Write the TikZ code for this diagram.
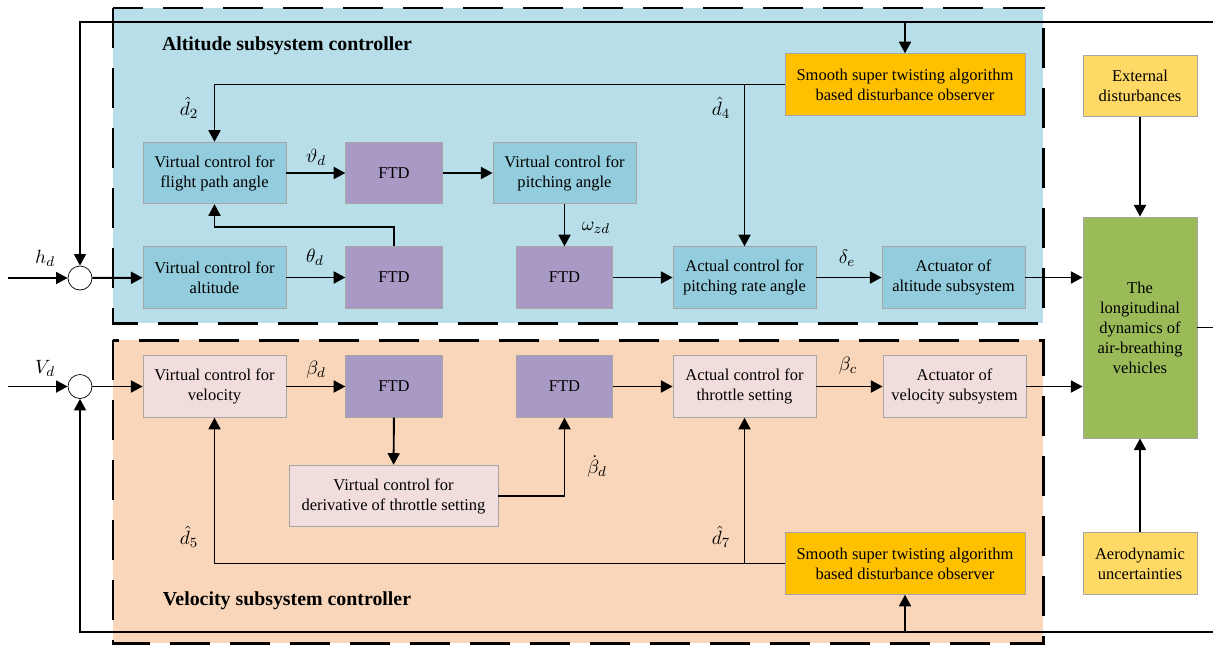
\documentclass[tikz,border=0pt]{standalone}
\usepackage{amsmath}
\usepackage{fontspec}
\setmainfont{Liberation Serif}
\usepackage{tikz}
\usetikzlibrary{arrows.meta}
\definecolor{altback}{HTML}{B7DEE9}
\definecolor{velback}{HTML}{F9D6B9}
\definecolor{altbox}{HTML}{93CDDD}
\definecolor{velbox}{HTML}{F1DEDC}
\definecolor{ftdbox}{HTML}{A99AC5}
\definecolor{obsbox}{HTML}{FFC000}
\definecolor{envbox}{HTML}{FFD966}
\definecolor{plantbox}{HTML}{9BBB59}
\tikzset{%
  every block/.style={
    draw=gray!70,
    line width=0.5pt,
    minimum width=2.86cm,
    minimum height=1.23cm,
    inner sep=1pt,
    align=center,
    font=\fontsize{9.4}{11.4}\selectfont
  },
  block alt/.style={fill=altbox},
  block vel/.style={fill=velbox},
  block ftd/.style={fill=ftdbox, minimum width=1.93cm},
  block obs/.style={fill=obsbox, minimum width=4.8cm},
  block env/.style={fill=envbox, minimum width=2.28cm},
  block plant/.style={fill=plantbox, minimum width=2.28cm, minimum height=4.42cm},
  sum/.style={circle, draw, fill=white, line width=0.4pt, minimum size=0.48cm, inner sep=0pt},
  frame/.style={line width=1.7pt, dash pattern=on 0.8cm off 0.4cm},
  link/.style={line width=1.1pt, ->},
  wire/.style={line width=1.1pt},
  signal/.style={font=\fontsize{11}{13}\selectfont, inner sep=0pt},
  title/.style={font=\fontsize{11.3}{13}\selectfont\bfseries, inner sep=0pt}
}

\begin{document}
\begin{tikzpicture}[x=0.02cm, y=-0.02cm, >={Triangle[length=6.6pt,width=6.8pt]}]

\useasboundingbox (0,0) rectangle (1213,646);

% controller regions
\draw [frame, fill=altback] (113,8) rectangle (1043,323);
\draw [frame, fill=velback] (113,340) rectangle (1043,643);
\node [title] (title-alt) at (287,46) {Altitude subsystem controller};
\node [title] (title-vel) at (287,601) {Velocity subsystem controller};

% altitude loop blocks
\node [every block/.try, block alt/.try] (virtual-fpa) at (214.5,173) {Virtual control for\\flight path angle};
\node [every block/.try, block alt/.try] (virtual-alt) at (214.5,277.5) {Virtual control for\\altitude};
\node [every block/.try, block alt/.try] (virtual-pitch) at (564.5,173) {Virtual control for\\pitching angle};
\node [every block/.try, block alt/.try] (actual-pitch) at (744.5,277.5) {Actual control for\\pitching rate angle};
\node [every block/.try, block alt/.try] (actuator-alt) at (953.5,277.5) {Actuator of\\altitude subsystem};

% velocity loop blocks
\node [every block/.try, block vel/.try] (virtual-vel) at (214.5,386.5) {Virtual control for\\velocity};
\node [every block/.try, block vel/.try, minimum width=4.18cm] (virtual-der) at (393.5,496) {Virtual control for\\derivative of throttle setting};
\node [every block/.try, block vel/.try] (actual-thr) at (744.5,386.5) {Actual control for\\throttle setting};
\node [every block/.try, block vel/.try] (actuator-vel) at (954.5,386.5) {Actuator of\\velocity subsystem};

\foreach \x/\y [count=\i] in {394/173, 394/277.5, 564.5/277.5, 394/386.5, 564.5/386.5}
  \node [every block/.try, block ftd/.try] (ftd-\i) at (\x,\y) {FTD};

\foreach \y/\l in {84.5/top, 563.5/bot}
  \node [every block/.try, block obs/.try] (obs-\l) at (905,\y) {Smooth super twisting algorithm\\based disturbance observer};

\node [every block/.try, block env/.try] (ext-dist) at (1140,86) {External\\disturbances};
\node [every block/.try, block env/.try] (aero-unc) at (1140,563.5) {Aerodynamic\\uncertainties};
\node [every block/.try, block plant/.try] (vehicle) at (1140,327.5) {The\\longitudinal\\dynamics of\\air-breathing\\vehicles};

\node [sum] (sum-h) at (80,278) {};
\node [sum] (sum-v) at (80,386.5) {};

% feedback loop round the right side
\coordinate (fb-top) at (1214,22);
\coordinate (fb-out) at (1214,327.5);
\coordinate (fb-bot) at (1214,632);
\coordinate (in-h) at (8,278);
\coordinate (in-v) at (8,386.5);

\draw [wire] (vehicle.east) -- (fb-out);
\draw [wire] (fb-top) -- (fb-bot);
\draw [link] (fb-top) -| (sum-h.north);
\draw [link] (fb-bot) -| (sum-v.south);
\draw [link] (obs-top.north |- fb-top) -- (obs-top.north);
\draw [link] (obs-bot.south |- fb-bot) -- (obs-bot.south);

% altitude loop
\draw [link] (in-h) -- (sum-h);
\draw [link] (sum-h) -- (virtual-alt);
\draw [link] (virtual-alt) -- (ftd-2);
\draw [link] (ftd-2.north) -- ++(0,-19.5) -| (virtual-fpa.south);
\draw [link] (virtual-fpa) -- (ftd-1);
\draw [link] (ftd-1) -- (virtual-pitch);
\draw [link] (virtual-pitch) -- (ftd-3);
\draw [link] (ftd-3) -- (actual-pitch);
\draw [link] (actual-pitch) -- (actuator-alt);
\draw [link] (actuator-alt.east) -- (vehicle.west |- actuator-alt.east);
\draw [link] (obs-top.west) -| (virtual-fpa.north);
\draw [link] (actual-pitch.north |- obs-top.west) -- (actual-pitch.north);

% velocity loop
\draw [link] (in-v) -- (sum-v);
\draw [link] (sum-v) -- (virtual-vel);
\draw [link] (virtual-vel) -- (ftd-4);
\draw [link] (ftd-4) -- (virtual-der);
\draw [link] (virtual-der.east) -| (ftd-5.south);
\draw [link] (ftd-5) -- (actual-thr);
\draw [link] (actual-thr) -- (actuator-vel);
\draw [link] (actuator-vel.east) -- (vehicle.west |- actuator-vel.east);
\draw [link] (obs-bot.west) -| (virtual-vel.south);
\draw [link] (actual-thr.south |- obs-bot.west) -- (actual-thr.south);

% uncertainties into the plant
\draw [link] (ext-dist) -- (vehicle);
\draw [link] (aero-unc) -- (vehicle);

% signal labels
\node [signal] (lab-hd) at (45,258) {$h_d$};
\node [signal] (lab-vd) at (45,368) {$V_d$};
\node [signal] (lab-d2) at (189,108) {$\hat{d}_2$};
\node [signal] (lab-d4) at (721,108) {$\hat{d}_4$};
\node [signal] (lab-d5) at (189,537) {$\hat{d}_5$};
\node [signal] (lab-d7) at (721,537) {$\hat{d}_7$};
\node [signal] (lab-vt) at (316,157) {$\vartheta_d$};
\node [signal] (lab-th) at (315,257) {$\theta_d$};
\node [signal] (lab-wz) at (596,228) {$\omega_{zd}$};
\node [signal] (lab-de) at (847,258) {$\delta_e$};
\node [signal] (lab-bd) at (316,370) {$\beta_d$};
\node [signal] (lab-bdd) at (597,466) {$\dot{\beta}_d$};
\node [signal] (lab-bc) at (848,366) {$\beta_c$};

\end{tikzpicture}
\end{document}
